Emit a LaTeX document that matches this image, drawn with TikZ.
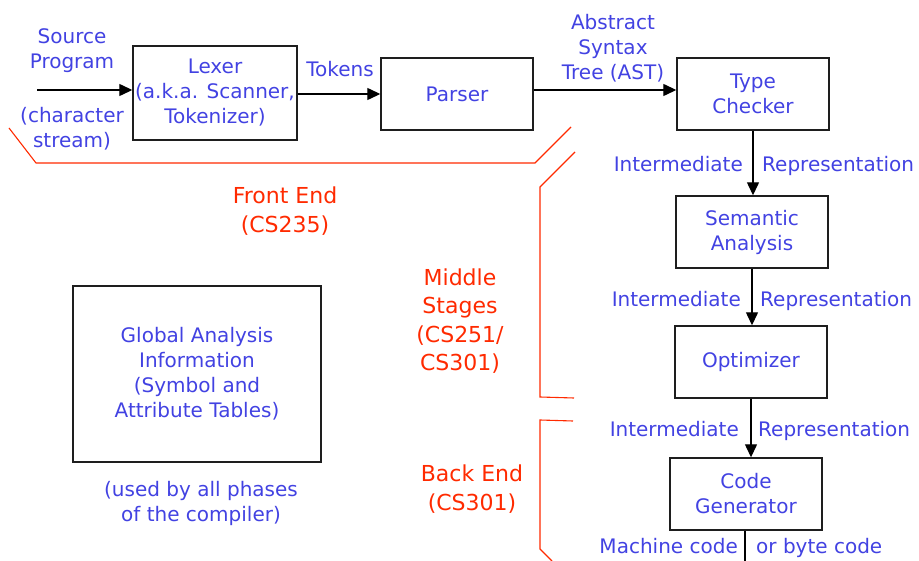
\documentclass[tikz,border=0pt]{standalone}
\usepackage{fontspec}
\setmainfont{DejaVu Sans}
\usetikzlibrary{arrows.meta}
\definecolor{txtblue}{RGB}{66,66,226}
\definecolor{stagered}{RGB}{255,42,0}
\definecolor{boxline}{RGB}{30,30,30}
\tikzset{
  phase/.style={draw=boxline, line width=1.4pt, rectangle, text=txtblue,
    align=center, font=\fontsize{20}{25}\selectfont, inner sep=0pt},
  lbl/.style={text=txtblue, align=center, font=\fontsize{20}{25}\selectfont, inner sep=0pt},
  stage/.style={text=stagered, align=center, font=\fontsize{22}{28.5}\selectfont, inner sep=0pt},
  flow/.style={draw=black, line width=1.3pt, -{Triangle[length=13pt,width=12pt]}},
  plain/.style={draw=black, line width=1.3pt},
  bracket/.style={draw=stagered, line width=1.1pt}
}
\begin{document}
\begin{tikzpicture}[x=1pt,y=-1pt]
\useasboundingbox (0,0) rectangle (919,561);

% compiler phases
\node[phase, minimum width=164pt, minimum height=94pt] (lexer) at (215,93)
  {Lexer\\(a.k.a. Scanner,\\Tokenizer)};
\node[phase, minimum width=152pt, minimum height=72pt] (parser) at (457,94) {Parser};
\node[phase, minimum width=152pt, minimum height=72pt] (type) at (753,94) {Type\\Checker};
\node[phase, minimum width=152pt, minimum height=72pt] (sem) at (752,232) {Semantic\\Analysis};
\node[phase, minimum width=152pt, minimum height=72pt] (opt) at (751,362) {Optimizer};
\node[phase, minimum width=152pt, minimum height=72pt] (gen) at (746,494) {Code\\Generator};
\node[phase, minimum width=248pt, minimum height=176pt] (global) at (197,374)
  {Global Analysis\\Information\\(Symbol and\\Attribute Tables)};

% free ends of the input and output lines
\coordinate (src) at (37,90);
\coordinate (out) at (745,561);

% connectors
\draw[flow] (src) -- (lexer.west |- src);
\draw[flow] (lexer.east |- parser) -- (parser.west);
\draw[flow] ([yshift=4pt]parser.east) -- ([yshift=4pt]type.west);
\draw[flow] (type.south) -- (type.south |- sem.north);
\draw[flow] (sem.south) -- (sem.south |- opt.north);
\draw[flow] (opt.south) -- (opt.south |- gen.north);
\draw[plain] (gen.south -| out) -- (out);

% connector labels
\node[lbl] (srcA) at (72,51) {Source\\Program};
\node[lbl] (srcB) at (72,129) {(character\\stream)};
\node[lbl] (tok) at (340,69) {Tokens};
\node[lbl] (ast) at (613,48) {Abstract\\Syntax\\Tree (AST)};
\node[lbl, anchor=base east] (ir1a) at (743,172) {Intermediate};
\node[lbl, anchor=base west] (ir1b) at (762,172) {Representation};
\node[lbl, anchor=base east] (ir2a) at (741,307) {Intermediate};
\node[lbl, anchor=base west] (ir2b) at (760,307) {Representation};
\node[lbl, anchor=base east] (ir3a) at (739,436) {Intermediate};
\node[lbl, anchor=base west] (ir3b) at (758,436) {Representation};
\node[lbl, anchor=base east] (mc) at (738,553) {Machine code};
\node[lbl, anchor=base west] (bc) at (756,553) {or byte code};
\node[lbl] (used) at (201,503) {(used by all phases\\of the compiler)};

% stage labels
\node[stage] (front) at (285,211) {Front End\\(CS235)};
\node[stage] (middle) at (460,321) {Middle\\Stages\\(CS251/\\CS301)};
\node[stage] (back) at (472,489) {Back End\\(CS301)};

% stage brackets
\draw[bracket] (9,128) -- (36,163) -- (535,163) -- (571,127);
\draw[bracket] (575,152) -- (540,187) -- (540,397) -- (574,398);
\draw[bracket] (573,421) -- (540,420) -- (540,549) -- (552,561);
\end{tikzpicture}
\end{document}
